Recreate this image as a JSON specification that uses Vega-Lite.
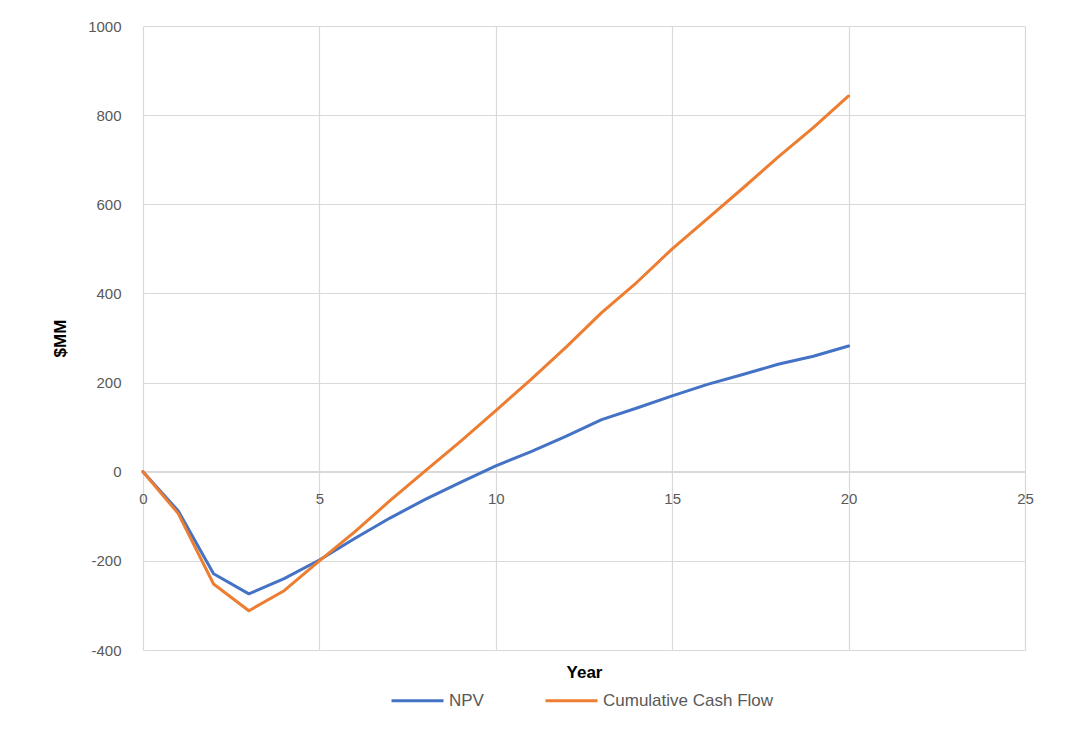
{
  "$schema": "https://vega.github.io/schema/vega-lite/v6.json",
  "width": 882,
  "height": 624,
  "autosize": {"type": "none"},
  "padding": {"left": 143, "top": 26, "right": 47, "bottom": 79},
  "background": "white",
  "config": {
    "view": {"stroke": null},
    "font": "Liberation Sans"
  },
  "data": {
    "values": [
      {"year": 0, "series": "NPV", "value": 0},
      {"year": 1, "series": "NPV", "value": -88},
      {"year": 2, "series": "NPV", "value": -229},
      {"year": 3, "series": "NPV", "value": -274},
      {"year": 4, "series": "NPV", "value": -240},
      {"year": 5, "series": "NPV", "value": -198},
      {"year": 6, "series": "NPV", "value": -150},
      {"year": 7, "series": "NPV", "value": -104},
      {"year": 8, "series": "NPV", "value": -62},
      {"year": 9, "series": "NPV", "value": -24},
      {"year": 10, "series": "NPV", "value": 13},
      {"year": 11, "series": "NPV", "value": 45},
      {"year": 12, "series": "NPV", "value": 80},
      {"year": 13, "series": "NPV", "value": 117},
      {"year": 14, "series": "NPV", "value": 143},
      {"year": 15, "series": "NPV", "value": 170},
      {"year": 16, "series": "NPV", "value": 196},
      {"year": 17, "series": "NPV", "value": 218},
      {"year": 18, "series": "NPV", "value": 241},
      {"year": 19, "series": "NPV", "value": 259},
      {"year": 20, "series": "NPV", "value": 282},
      {"year": 0, "series": "Cumulative Cash Flow", "value": 0},
      {"year": 1, "series": "Cumulative Cash Flow", "value": -94},
      {"year": 2, "series": "Cumulative Cash Flow", "value": -252},
      {"year": 3, "series": "Cumulative Cash Flow", "value": -312},
      {"year": 4, "series": "Cumulative Cash Flow", "value": -267},
      {"year": 5, "series": "Cumulative Cash Flow", "value": -200},
      {"year": 6, "series": "Cumulative Cash Flow", "value": -135},
      {"year": 7, "series": "Cumulative Cash Flow", "value": -65},
      {"year": 8, "series": "Cumulative Cash Flow", "value": 2},
      {"year": 9, "series": "Cumulative Cash Flow", "value": 68},
      {"year": 10, "series": "Cumulative Cash Flow", "value": 137},
      {"year": 11, "series": "Cumulative Cash Flow", "value": 207},
      {"year": 12, "series": "Cumulative Cash Flow", "value": 280},
      {"year": 13, "series": "Cumulative Cash Flow", "value": 357},
      {"year": 14, "series": "Cumulative Cash Flow", "value": 425},
      {"year": 15, "series": "Cumulative Cash Flow", "value": 500},
      {"year": 16, "series": "Cumulative Cash Flow", "value": 568},
      {"year": 17, "series": "Cumulative Cash Flow", "value": 636},
      {"year": 18, "series": "Cumulative Cash Flow", "value": 706},
      {"year": 19, "series": "Cumulative Cash Flow", "value": 772},
      {"year": 20, "series": "Cumulative Cash Flow", "value": 843}
    ]
  },
  "mark": {"type": "line", "strokeWidth": 3, "strokeCap": "round", "strokeJoin": "round"},
  "encoding": {
    "x": {
      "field": "year",
      "type": "quantitative",
      "scale": {"domain": [0, 25], "nice": false, "zero": false},
      "axis": {
        "values": [0, 5, 10, 15, 20, 25],
        "labelExpr": "'' + datum.value",
        "labelFlush": false,
        "title": "Year",
        "titleFontWeight": "bold",
        "titleFontSize": 17,
        "titleColor": "#000000",
        "titleY": 193,
        "offset": -179,
        "domainColor": "#d9d9d9",
        "domainWidth": 1.2,
        "ticks": false,
        "labelPadding": 20,
        "labelFontSize": 15,
        "labelColor": "#595959",
        "gridColor": "#d9d9d9",
        "gridWidth": 1.2
      }
    },
    "y": {
      "field": "value",
      "type": "quantitative",
      "scale": {"domain": [-400, 1000], "nice": false},
      "axis": {
        "values": [-400, -200, 0, 200, 400, 600, 800, 1000],
        "labelExpr": "'' + datum.value",
        "title": "$MM",
        "titleFontWeight": "bold",
        "titleFontSize": 17,
        "titleColor": "#000000",
        "titlePadding": 18,
        "domain": false,
        "ticks": false,
        "labelPadding": 22,
        "labelFontSize": 15,
        "labelColor": "#595959",
        "gridColor": "#d9d9d9",
        "gridWidth": 1.2
      }
    },
    "color": {
      "field": "series",
      "type": "nominal",
      "sort": ["NPV", "Cumulative Cash Flow"],
      "scale": {"domain": ["NPV", "Cumulative Cash Flow"], "range": ["#4472C4", "#ED7D31"]},
      "legend": {
        "title": null,
        "orient": "none",
        "direction": "horizontal",
        "legendX": 247,
        "legendY": 647,
        "symbolType": "stroke",
        "symbolSize": 2704,
        "symbolStrokeWidth": 3,
        "labelFontSize": 17,
        "labelLimit": 400,
        "labelColor": "#595959",
        "labelOffset": 4,
        "columnPadding": 55
      }
    }
  }
}
